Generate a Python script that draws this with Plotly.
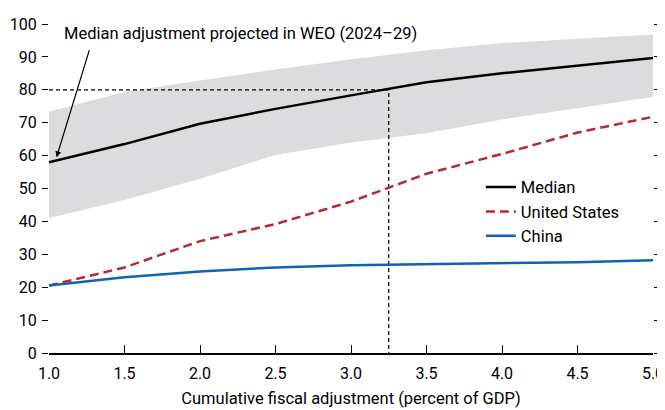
import plotly.graph_objects as go

# Datos
ajuste = [1.0, 1.5, 2.0, 2.5, 3.0, 3.5, 4.0, 4.5, 5.0]
mediana = [58.0, 63.5, 69.7, 74.2, 78.3, 82.3, 85.0, 87.4, 89.7]
banda_sup = [73.4, 79.3, 82.8, 86.2, 89.3, 92.0, 94.2, 95.6, 96.8]
banda_inf = [41.0, 46.5, 53.0, 60.2, 64.0, 66.8, 71.0, 74.5, 77.8]
estados_unidos = [20.5, 26.0, 34.0, 39.2, 46.0, 54.5, 60.5, 67.0, 71.8]
china = [20.5, 23.0, 24.8, 26.0, 26.7, 27.0, 27.3, 27.6, 28.2]

# Ajuste mediano proyectado en el WEO
ref_x = 3.25
ref_y = 80

FUENTE = "Roboto, Liberation Sans Narrow, sans-serif"

fig = go.Figure()

# Banda gris (rango)
fig.add_trace(go.Scatter(x=ajuste, y=banda_inf, mode="lines",
                         line=dict(width=0), showlegend=False, hoverinfo="skip"))
fig.add_trace(go.Scatter(x=ajuste, y=banda_sup, mode="lines",
                         line=dict(width=0), fill="tonexty",
                         fillcolor="#dcdcde", showlegend=False, hoverinfo="skip"))

# Líneas de referencia
fig.add_trace(go.Scatter(x=[ajuste[0], ref_x, ref_x], y=[ref_y, ref_y, 0],
                         mode="lines", line=dict(color="black", width=1.2, dash="4px,3px"),
                         showlegend=False, hoverinfo="skip"))

fig.add_trace(go.Scatter(x=ajuste, y=mediana, mode="lines", name="Median",
                         line=dict(color="black", width=2.5)))
fig.add_trace(go.Scatter(x=ajuste, y=estados_unidos, mode="lines", name="United States",
                         line=dict(color="#b5283a", width=2.5, dash="9px,5px")))
fig.add_trace(go.Scatter(x=ajuste, y=china, mode="lines", name="China",
                         line=dict(color="#1262ae", width=2.5)))

# Eje derecho solo con marcas
fig.add_trace(go.Scatter(x=[ajuste[0]], y=[0], yaxis="y2", mode="markers",
                         marker=dict(opacity=0), showlegend=False, hoverinfo="skip"))

fig.add_annotation(x=1.086, y=97.2, xref="x", yref="y",
                   text="Median adjustment projected in WEO (2024–29)",
                   showarrow=False, xanchor="left", yanchor="middle",
                   font=dict(size=16.5, color="black"))
fig.add_annotation(x=1.05, y=59.5, ax=1.27, ay=92.5, xref="x", yref="y",
                   axref="x", ayref="y", text="", showarrow=True,
                   arrowhead=2, arrowsize=1, arrowwidth=1.2, arrowcolor="black")

# La página añade 8 px de margen: se descuentan aquí
fig.update_layout(
    width=657, height=402,
    margin=dict(l=41, r=12, t=16, b=57, autoexpand=False),
    plot_bgcolor="white", paper_bgcolor="white",
    font=dict(family=FUENTE, size=16, color="black"),
    showlegend=True,
    legend=dict(x=0.715, y=0.557, xanchor="left", yanchor="top",
                traceorder="normal", bgcolor="rgba(0,0,0,0)",
                font=dict(size=16.5), itemwidth=30, tracegroupgap=0),
    xaxis=dict(range=[1, 5], dtick=0.5, tickformat=".1f", ticks="inside",
               ticklen=8, tickcolor="black", showline=True, linecolor="black",
               linewidth=1.5, showgrid=False, zeroline=False, automargin=False,
               ticklabelstandoff=5,
               title=dict(text="Cumulative fiscal adjustment (percent of GDP)",
                          standoff=10, font=dict(size=16.5))),
    yaxis=dict(range=[0, 100], dtick=10, ticks="outside", ticklen=6,
               tickcolor="black", showline=False, showgrid=False, zeroline=False,
               automargin=False, ticklabelstandoff=2),
    yaxis2=dict(range=[0, 100], dtick=10, ticks="outside", ticklen=6,
                tickcolor="black", overlaying="y", side="right", automargin=False,
                showticklabels=False, showline=False, showgrid=False, zeroline=False),
)

fig.write_html("out.html")
